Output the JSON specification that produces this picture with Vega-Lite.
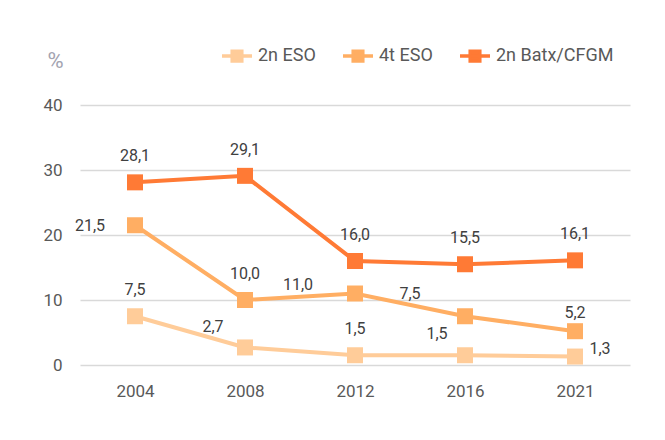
{
  "$schema": "https://vega.github.io/schema/vega-lite/v6.json",
  "width": 550,
  "height": 260,
  "autosize": {"type": "none"},
  "padding": {"left": 80, "top": 105, "right": 35, "bottom": 75},
  "background": "white",
  "config": {
    "view": {"stroke": null},
    "font": "Roboto",
    "locale": {"number": {"decimal": ",", "thousands": ".", "grouping": [3], "currency": ["", " €"]}}
  },
  "data": {
    "values": [
      {"year": "2004", "s": "2n ESO", "v": 7.5},
      {"year": "2008", "s": "2n ESO", "v": 2.7},
      {"year": "2012", "s": "2n ESO", "v": 1.5},
      {"year": "2016", "s": "2n ESO", "v": 1.5},
      {"year": "2021", "s": "2n ESO", "v": 1.3},
      {"year": "2004", "s": "4t ESO", "v": 21.5},
      {"year": "2008", "s": "4t ESO", "v": 10.0},
      {"year": "2012", "s": "4t ESO", "v": 11.0},
      {"year": "2016", "s": "4t ESO", "v": 7.5},
      {"year": "2021", "s": "4t ESO", "v": 5.2},
      {"year": "2004", "s": "2n Batx/CFGM", "v": 28.1},
      {"year": "2008", "s": "2n Batx/CFGM", "v": 29.1},
      {"year": "2012", "s": "2n Batx/CFGM", "v": 16.0},
      {"year": "2016", "s": "2n Batx/CFGM", "v": 15.5},
      {"year": "2021", "s": "2n Batx/CFGM", "v": 16.1}
    ]
  },
  "encoding": {
    "x": {
      "field": "year", "type": "ordinal",
      "scale": {"type": "point", "padding": 0.5},
      "axis": {"title": null, "labelAngle": 0, "ticks": false, "domain": false, "labelPadding": 18, "labelFontSize": 17, "labelColor": "#595959"}
    },
    "y": {
      "field": "v", "type": "quantitative",
      "scale": {"domain": [0, 40], "nice": false},
      "axis": {
        "values": [0, 10, 20, 30, 40], "ticks": false, "domain": false,
        "gridColor": "#d9d9d9", "gridWidth": 1.3,
        "labelPadding": 18, "labelFontSize": 17, "labelColor": "#595959",
        "title": "%", "titleAngle": 0, "titleX": -25, "titleY": -45, "titleAlign": "center", "titleBaseline": "middle",
        "titleFontSize": 22, "titleFontWeight": "normal", "titleColor": "#a3a3b0"
      }
    }
  },
  "layer": [
    {
      "mark": {"type": "line", "strokeWidth": 4, "point": {"shape": "square", "size": 256, "filled": true, "opacity": 1}},
      "encoding": {
        "color": {
          "field": "s", "type": "nominal",
          "scale": {"domain": ["2n ESO", "4t ESO", "2n Batx/CFGM"], "range": ["#FFCC99", "#FFAE63", "#FF7A35"]},
          "legend": {
            "title": null, "orient": "none", "direction": "horizontal",
            "legendX": 140, "legendY": -66,
            "symbolType": "M-1,0L1,0M-0.32,-0.32L0.32,-0.32L0.32,0.32L-0.32,0.32Z",
            "symbolSize": 900, "symbolStrokeWidth": 3.5,
            "labelFontSize": 18, "labelColor": "#595959", "labelOffset": 4,
            "columnPadding": 20,
            "encode": {"symbols": {"update": {"fill": {"scale": "color", "field": "value"}}}}
          }
        }
      }
    },
    {
      "transform": [{"filter": "datum.s == '2n Batx/CFGM' || (datum.s == '4t ESO' && datum.year == '2008') || (datum.s == '2n ESO' && (datum.year == '2004' || datum.year == '2012'))"}],
      "mark": {"type": "text", "dy": -26, "fontSize": 16, "color": "#404040"},
      "encoding": {"text": {"field": "v", "type": "quantitative", "format": ".1f"}}
    },
    {
      "transform": [{"filter": "datum.s == '4t ESO' && datum.year == '2021'"}],
      "mark": {"type": "text", "dy": -18, "fontSize": 16, "color": "#404040"},
      "encoding": {"text": {"field": "v", "type": "quantitative", "format": ".1f"}}
    },
    {
      "transform": [{"filter": "datum.s == '4t ESO' && datum.year == '2004'"}],
      "mark": {"type": "text", "dx": -45, "dy": 1, "fontSize": 16, "color": "#404040"},
      "encoding": {"text": {"field": "v", "type": "quantitative", "format": ".1f"}}
    },
    {
      "transform": [{"filter": "datum.s == '4t ESO' && datum.year == '2012'"}],
      "mark": {"type": "text", "dx": -57, "dy": -9, "fontSize": 16, "color": "#404040"},
      "encoding": {"text": {"field": "v", "type": "quantitative", "format": ".1f"}}
    },
    {
      "transform": [{"filter": "datum.s == '4t ESO' && datum.year == '2016'"}],
      "mark": {"type": "text", "dx": -55, "dy": -22, "fontSize": 16, "color": "#404040"},
      "encoding": {"text": {"field": "v", "type": "quantitative", "format": ".1f"}}
    },
    {
      "transform": [{"filter": "datum.s == '2n ESO' && datum.year == '2008'"}],
      "mark": {"type": "text", "dx": -32, "dy": -20, "fontSize": 16, "color": "#404040"},
      "encoding": {"text": {"field": "v", "type": "quantitative", "format": ".1f"}}
    },
    {
      "transform": [{"filter": "datum.s == '2n ESO' && datum.year == '2016'"}],
      "mark": {"type": "text", "dx": -28, "dy": -21, "fontSize": 16, "color": "#404040"},
      "encoding": {"text": {"field": "v", "type": "quantitative", "format": ".1f"}}
    },
    {
      "transform": [{"filter": "datum.s == '2n ESO' && datum.year == '2021'"}],
      "mark": {"type": "text", "dx": 25, "dy": -8, "fontSize": 16, "color": "#404040"},
      "encoding": {"text": {"field": "v", "type": "quantitative", "format": ".1f"}}
    }
  ]
}
